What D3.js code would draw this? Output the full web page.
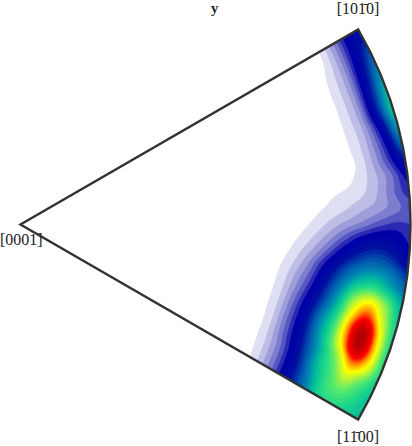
<!DOCTYPE html>
<html><head><meta charset="utf-8">
<script src="https://cdn.jsdelivr.net/npm/d3@7"></script>
<style>html,body{margin:0;padding:0;background:#fff}svg{display:block}
text{font-family:"Liberation Serif",serif;fill:#222}</style></head>
<body><svg id="c" width="412" height="446"></svg>
<script>
// polar samples of the density
const angles = d3.range(30, -30.01, -2.5);           // degrees
const radii = [0.60,0.64,0.68,0.72,0.76,0.80,0.84,0.88,0.92,0.96,1.00];
const density = [
[0,0,0,0,0,0,.7,1.7,7,15,19],
[0,0,0,0,0,0,.7,2.2,7.5,16,24],
[0,0,0,0,0,0,.8,3,8,18,29],
[0,0,0,0,0,.1,1,3.3,8.5,20,34],
[0,0,0,0,0,.1,1,3.3,8.7,22,38],
[0,0,0,0,0,.1,1,3.3,8.5,22,40],
[0,0,0,0,0,.1,1.1,3,7.5,18,36],
[0,0,0,0,0,.1,1,2.8,7,15,30],
[0,0,0,0,0,.05,.8,2.5,6.5,12.7,22],
[0,0,0,0,0,.3,1.3,3,5.7,9.7,15.5],
[0,0,0,0,.5,1.8,2.8,3.8,6.1,9.7,13.3],
[0,0,0,.5,1.7,3,4.2,5.8,7.2,9.1,11],
[0,0,.3,1.3,2.9,5,7.1,9,11.2,12.5,12],
[0,0,.8,2.3,4.7,8,12,16,18,17,13.5],
[0,.3,1.3,3.6,7,12,18,23,25,22,16],
[0,.5,2,5,10,17,25,31,33,30,24],
[0,.7,2.5,6.5,12,21,31,41,45,38,31],
[0,.85,2.8,7.5,14,24,37,57,66,54,38],
[0,.95,3,8.5,16,27,42,67,81,62,42],
[0,1,3.1,9,17,30,46,74,98,70,44],
[0,1,3,9,17,29.5,46,71,97,72,45],
[0,.95,2.9,8.5,16,27,41,58,77,66,45],
[0,.85,2.7,7.5,14.5,25,39,50,62,52,42],
[0,.75,2.4,7,13.5,23,35,47,52,46,40],
[0,.6,2.1,6.5,13,22,32,44,46,43,39]
];
const lightLevels = [2,4,6,8,10,12];
const colorLevels = [2,4,6,8,10,12,14,20,27,33,37,44,50,58,66,73,82,90,100];
const colorValues = ["#dfdff3","#bdbde6","#9e9edb","#7d7dcf","#5757c3","#2a2ab4","#0000a8","#0010a0","#0060b0","#0090b0","#00b8a0","#20d888","#50e870","#b0f440","#ffff00","#ffa000","#ff0000","#d80000","#a80000"];
const labels = ["[101\u03040]","[11\u030400]","[0001]"];
const title = "y";

const W=412,H=446, apex=[20.5,224.5], R=390, spread=30;
const svg=d3.select("#c");
const rScale=d3.scaleLinear([0,1],[0,R]);
const aScale=d3.scaleLinear([0,1],[0,Math.PI/180]);

// Catmull-Rom resampling for a smooth filled contour plot
const K=10, rows=angles.length, cols=radii.length, nx=(cols-1)*K+1, ny=(rows-1)*K+1;
const cr=(a,b,c,d,t)=>0.5*(2*b+(c-a)*t+(2*a-5*b+4*c-d)*t*t+(3*b-a-3*c+d)*t*t*t);
const at=(j,i)=>density[Math.max(0,Math.min(rows-1,j))][Math.max(0,Math.min(cols-1,i))];
const grid=new Float64Array(nx*ny);
for(let y=0;y<ny;y++){const fj=y/K,j=Math.min(rows-2,Math.floor(fj)),tj=fj-j;
 for(let x=0;x<nx;x++){const fi=x/K,i=Math.min(cols-2,Math.floor(fi)),ti=fi-i;
  const c=[-1,0,1,2].map(dj=>cr(at(j+dj,i-1),at(j+dj,i),at(j+dj,i+1),at(j+dj,i+2),ti));
  grid[y*nx+x]=cr(c[0],c[1],c[2],c[3],tj);
 }}
const thresholds=lightLevels.concat(d3.range(14,101,2));
const color=d3.scaleLinear(colorLevels,colorValues).clamp(true);
const contours=d3.contours().size([nx,ny]).thresholds(thresholds)(grid);
const aIdx=d3.scaleLinear([0,ny-1],[angles[0],angles[rows-1]]);
const rIdx=d3.scaleLinear([0,nx-1],[radii[0],radii[cols-1]]);
const path=d3.geoPath(d3.geoTransform({point(x,y){
  const t=aScale(aIdx(y-.5)), r=rScale(rIdx(x-.5));
  this.stream.point(apex[0]+r*Math.cos(t),apex[1]-r*Math.sin(t));
}}));
const wedge=d3.arc().innerRadius(0).outerRadius(R)
  .startAngle(d=>(90-d[0])*Math.PI/180).endAngle(d=>(90-d[1])*Math.PI/180);
const wedgeD=wedge([spread,-spread]);
svg.append("clipPath").attr("id","w").append("path").attr("d",wedgeD).attr("transform",`translate(${apex})`);
svg.append("g").attr("clip-path","url(#w)").selectAll("path").data(contours).join("path")
  .attr("d",path).attr("fill",d=>color(d.value)).attr("stroke",d=>color(d.value)).attr("stroke-width",.3);
svg.append("path").attr("d",wedgeD).attr("transform",`translate(${apex})`)
  .attr("fill","none").attr("stroke","#333").attr("stroke-width",2.4).attr("stroke-linejoin","miter").attr("stroke-miterlimit",10);
svg.append("text").attr("x",214.5).attr("y",12.8).attr("text-anchor","middle").attr("font-weight","bold").attr("font-size",14.5).text(title);
const lp=[[358,14,"middle"],[358,442,"middle"],[0,245,"start"]];
labels.forEach((t,i)=>svg.append("text").attr("x",lp[i][0]).attr("y",lp[i][1]).attr("text-anchor",lp[i][2]).attr("font-size",16).text(t));
</script></body></html>
